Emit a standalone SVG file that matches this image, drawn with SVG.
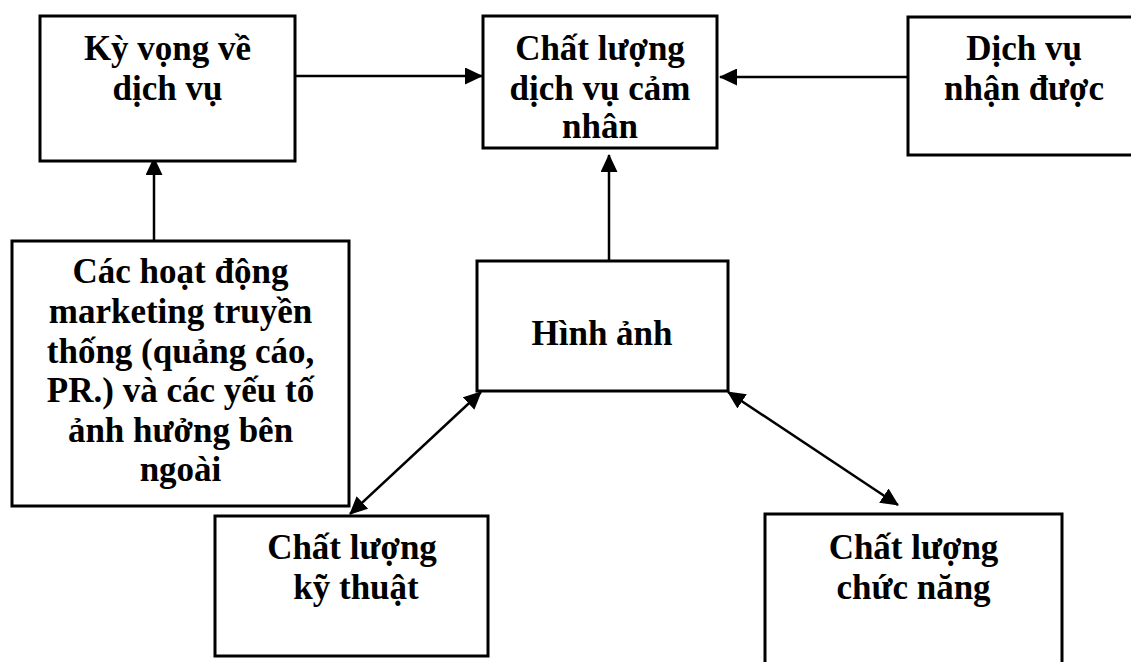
<svg xmlns="http://www.w3.org/2000/svg" width="1131" height="662" viewBox="0 0 1131 662">
  <style>
    .box { fill: #ffffff; stroke: #000000; stroke-width: 3; }
    .lbl { font-family: "Liberation Serif", "Times New Roman", serif; font-weight: bold; font-size: 35px; fill: #000000; text-anchor: middle; }
    .conn { stroke: #000000; stroke-width: 2.5; fill: none; }
  </style>
  <defs>
    <marker id="arrow" markerUnits="userSpaceOnUse" markerWidth="18" markerHeight="17" refX="17" refY="8.5" orient="auto-start-reverse">
      <path d="M0,0 L18,8.5 L0,17 Z" fill="#000000"/>
    </marker>
  </defs>

  <rect width="1131" height="662" fill="#ffffff"/>

  <!-- connectors -->
  <g id="connectors">
    <line class="conn" x1="295" y1="76" x2="482" y2="76" marker-end="url(#arrow)"/>
    <line class="conn" x1="908" y1="77" x2="720" y2="77" marker-end="url(#arrow)"/>
    <line class="conn" x1="154" y1="240" x2="154" y2="158" marker-end="url(#arrow)"/>
    <line class="conn" x1="609" y1="260" x2="609" y2="155" marker-end="url(#arrow)"/>
    <line class="conn" x1="350" y1="514" x2="481" y2="392" marker-start="url(#arrow)" marker-end="url(#arrow)"/>
    <line class="conn" x1="728" y1="392" x2="898" y2="505" marker-start="url(#arrow)" marker-end="url(#arrow)"/>
  </g>

  <!-- expectations -->
  <g id="node-ky-vong">
    <rect class="box" x="40" y="16" width="255" height="145"/>
    <text class="lbl" x="167.5" y="60">Kỳ vọng về</text>
    <text class="lbl" x="167.5" y="100">dịch vụ</text>
  </g>

  <!-- perceived service quality -->
  <g id="node-chat-luong-cam-nhan">
    <rect class="box" x="483" y="16" width="234" height="132"/>
    <text class="lbl" x="600" y="60">Chất lượng</text>
    <text class="lbl" x="600" y="100">dịch vụ cảm</text>
    <text class="lbl" x="600" y="138">nhân</text>
  </g>

  <!-- received service (runs past the right edge) -->
  <g id="node-dich-vu-nhan-duoc">
    <rect class="box" x="908" y="17" width="234" height="138"/>
    <text class="lbl" x="1024" y="60">Dịch vụ</text>
    <text class="lbl" x="1024" y="100">nhận được</text>
  </g>

  <!-- marketing and external influences -->
  <g id="node-marketing">
    <rect class="box" x="12" y="241" width="337" height="265"/>
    <text class="lbl" x="180.5" y="283">Các hoạt động</text>
    <text class="lbl" x="180.5" y="323">marketing truyền</text>
    <text class="lbl" x="180.5" y="363">thống (quảng cáo,</text>
    <text class="lbl" x="180.5" y="402">PR.) và các yếu tố</text>
    <text class="lbl" x="180.5" y="442">ảnh hưởng bên</text>
    <text class="lbl" x="180.5" y="481">ngoài</text>
  </g>

  <!-- image -->
  <g id="node-hinh-anh">
    <rect class="box" x="477" y="261" width="251" height="130"/>
    <text class="lbl" x="602" y="345">Hình ảnh</text>
  </g>

  <!-- technical quality -->
  <g id="node-ky-thuat">
    <rect class="box" x="215" y="516" width="273" height="140"/>
    <text class="lbl" x="352" y="559">Chất lượng</text>
    <text class="lbl" x="356" y="599">kỹ thuật</text>
  </g>

  <!-- functional quality (runs past the bottom edge) -->
  <g id="node-chuc-nang">
    <rect class="box" x="765" y="514" width="297" height="160"/>
    <text class="lbl" x="913.5" y="559">Chất lượng</text>
    <text class="lbl" x="913.5" y="599">chức năng</text>
  </g>
</svg>
